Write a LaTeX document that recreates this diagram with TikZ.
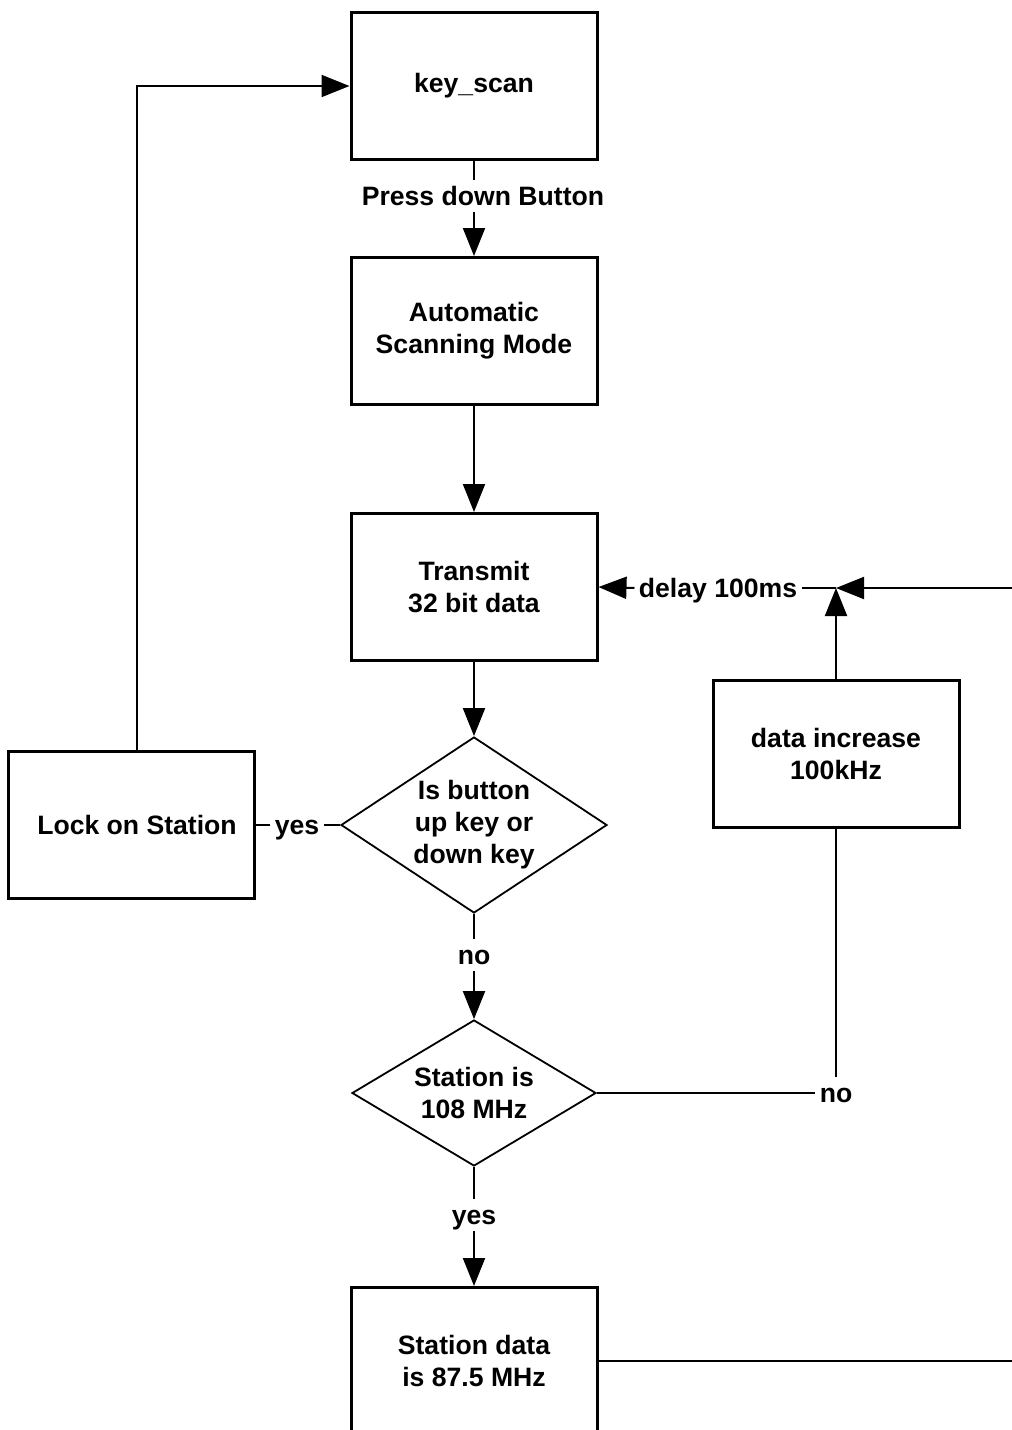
\documentclass[tikz,border=0pt]{standalone}
\usepackage{fontspec}
\setmainfont{Liberation Sans}
\usetikzlibrary{shapes.geometric, arrows.meta}
\tikzset{
    BoxStyle/.style={draw, line width=1.5pt, minimum width=123pt, minimum height=73.5pt, align=center, inner sep=0pt, font=\fontsize{13.3}{16}\selectfont\bfseries},
    DecisionStyle/.style={draw, diamond, line width=0.9pt, align=center, inner sep=0pt, font=\fontsize{13.3}{16}\selectfont\bfseries},
    LabelText/.style={inner xsep=2pt, inner ysep=3pt, text height=9.5pt, text depth=0pt, font=\fontsize{13.3}{16}\selectfont\bfseries},
    FlowLine/.style={line width=1pt},
    FlowArrow/.style={line width=1pt, -{Triangle[length=14pt, width=11pt]}}
}
\begin{document}
\begin{tikzpicture}[x=0.5pt, y=-0.5pt]
    % page frame, same size as the reference
    \fill[white] (0,0) rectangle (1012,1430);
    \clip (0,0) rectangle (1012,1430);

    % --- main column ---
    \node[BoxStyle] (ks) at (474,86) {key\_scan};
    \node[LabelText] (pdb) at (483,196) {Press down Button};
    \node[BoxStyle] (asm) at (474,331) {Automatic\\Scanning Mode};
    \node[BoxStyle] (tx) at (474,587) {Transmit\\32 bit data};
    \node[DecisionStyle, aspect=1.5, minimum width=133pt, minimum height=88pt] (btn) at (474,825) {Is button\\up key or\\down key};
    \node[LabelText] (no1) at (474,955) {no};
    \node[DecisionStyle, aspect=1.67, minimum width=122pt, minimum height=73pt] (st) at (474,1093) {Station is\\108 MHz};
    \node[LabelText] (yes2) at (474,1215) {yes};
    \node[BoxStyle] (sd) at (474,1361) {Station data\\is 87.5 MHz};

    % --- left branch ---
    \node[BoxStyle] (lock) at (131,825) {\hspace*{6pt}Lock on Station};
    \node[LabelText] (yes1) at (297,825) {yes};

    % --- right loop ---
    \node[BoxStyle] (inc) at (836,754) {data increase\\100kHz};
    \node[LabelText] (no2) at (836,1093) {no};
    \node[LabelText] (dly) at (718,588) {delay 100ms};
    \coordinate (jn) at (836,588);
    \coordinate (re1) at (1012,588);
    \coordinate (re2) at (1012,1361);

    % connectors
    \draw[FlowLine] (ks.south) -- (ks.south |- pdb.north);
    \draw[FlowArrow] (ks.south |- pdb.south) -- (asm.north);
    \draw[FlowArrow] (asm.south) -- (tx.north);
    \draw[FlowArrow] (tx.south) -- (btn.north);
    \draw[FlowLine] (btn.south) -- (no1.north);
    \draw[FlowArrow] (no1.south) -- (st.north);
    \draw[FlowLine] (st.south) -- (yes2.north);
    \draw[FlowArrow] (yes2.south) -- (sd.north);

    \draw[FlowLine] (btn.west) -- (yes1.east);
    \draw[FlowLine] (yes1.west) -- (lock.east);
    \draw[FlowArrow] ([xshift=3pt]lock.north) |- (ks.west);

    \draw[FlowLine] (st.east) -- (no2.west);
    \draw[FlowLine] (no2.north) -- (inc.south);
    \draw[FlowArrow] (inc.north) -- (jn);
    \draw[FlowArrow] (re1) -- (jn);
    \draw[FlowLine] (jn) -- (dly.east);
    \draw[FlowArrow] (dly.west) -- (tx.east);
    \draw[FlowLine] (sd.east) -- (re2);
\end{tikzpicture}
\end{document}
